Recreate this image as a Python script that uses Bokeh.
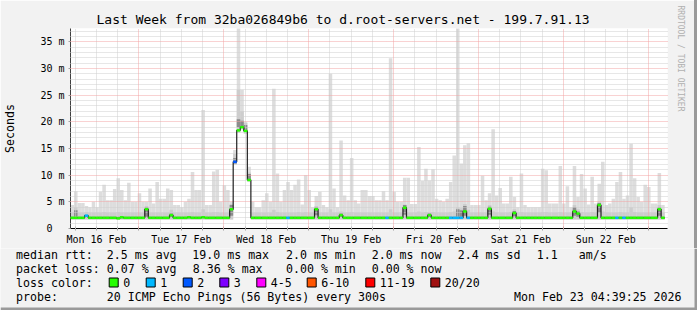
from bokeh.plotting import figure
from bokeh.layouts import column, row
from bokeh.models import (FixedTicker, Grid, ColumnDataSource, Range1d, Title, Spacer)
from bokeh.core.properties import value
from bokeh.embed import file_html
from bokeh.resources import INLINE

# ---------------- data (hourly, starting Mon 16 Feb 04:39) ----------------
smoke_max = [4.4, 7.0, 4.8, 4.8, 4.2, 4.0, 5.0, 4.0, 6.9, 8.2, 5.3, 5.3,
             7.4, 9.4, 7.2, 5.3, 8.6, 5.0, 5.0, 6.6, 5.0, 5.0, 7.5, 4.7,
             8.7, 5.6, 5.6, 7.5, 7.2, 4.4, 4.4, 4.0, 5.0, 5.6, 10.6, 7.2,
             7.2, 22.2, 4.4, 4.4, 10.7, 11.0, 5.0, 8.1, 7.2, 5.0, 14.7, 38.0,
             26.0, 20.0, 11.6, 5.0, 4.0, 4.0, 5.3, 6.6, 5.0, 26.2, 10.3, 5.0,
             7.2, 8.7, 7.2, 8.2, 9.2, 4.5, 10.0, 7.2, 4.0, 6.1, 6.9, 4.4,
             4.0, 29.0, 7.5, 4.0, 16.5, 6.2, 5.3, 13.2, 5.3, 4.7, 7.2, 7.2,
             6.1, 6.1, 5.3, 5.3, 7.0, 5.3, 31.9, 6.9, 5.0, 5.0, 9.5, 9.5,
             4.6, 4.6, 15.3, 8.9, 11.2, 9.0, 11.1, 5.6, 5.3, 5.0, 5.6, 8.7,
             13.7, 38.0, 12.2, 15.6, 16.0, 4.4, 4.4, 4.4, 9.9, 5.3, 6.6, 18.6,
             6.2, 7.6, 4.7, 4.7, 9.7, 5.9, 4.0, 10.3, 4.4, 4.0, 4.0, 4.0,
             4.0, 11.2, 10.9, 4.7, 4.7, 4.7, 11.7, 4.7, 7.9, 4.0, 11.7, 5.9,
             10.2, 7.5, 4.5, 9.7, 4.7, 8.4, 12.5, 4.4, 4.7, 5.6, 8.7, 10.6,
             5.6, 6.2, 15.9, 9.4, 5.9, 5.0, 8.2, 7.8, 4.7, 4.7, 10.4, 4.4]

smoke_min = [1.7, 1.7, 1.7, 1.7, 1.7, 1.7, 1.7, 1.7, 1.7, 1.7, 1.7, 1.7,
             1.7, 1.7, 1.7, 1.7, 1.7, 1.7, 1.7, 1.7, 1.7, 1.7, 1.7, 1.7,
             1.7, 1.7, 1.7, 1.7, 1.7, 1.7, 1.7, 1.7, 1.7, 1.7, 1.7, 1.7,
             1.7, 1.7, 1.7, 1.7, 1.7, 1.7, 1.7, 1.7, 1.7, 1.7, 12.0, 18.0,
             18.6, 17.8, 8.8, 1.7, 1.7, 1.7, 1.7, 1.7, 1.7, 1.7, 1.7, 1.7,
             1.7, 1.7, 1.7, 1.7, 1.7, 1.7, 1.7, 1.7, 1.7, 1.7, 1.7, 1.7,
             1.7, 1.7, 1.7, 1.7, 1.7, 1.7, 1.7, 1.7, 1.7, 1.7, 1.7, 1.7,
             1.7, 1.7, 1.7, 1.7, 1.7, 1.7, 1.7, 1.7, 1.7, 1.7, 1.7, 1.7,
             1.7, 1.7, 1.7, 1.7, 1.7, 1.7, 1.7, 1.7, 1.7, 1.7, 1.7, 1.7,
             1.7, 1.7, 1.7, 1.7, 1.7, 1.7, 1.7, 1.7, 1.7, 1.7, 1.7, 1.7,
             1.7, 1.7, 1.7, 1.7, 1.7, 1.7, 1.7, 1.7, 1.7, 1.7, 1.7, 1.7,
             1.7, 1.7, 1.7, 1.7, 1.7, 1.7, 1.7, 1.7, 1.7, 1.7, 1.7, 1.7,
             1.7, 1.7, 1.7, 1.7, 1.7, 1.7, 1.7, 1.7, 1.7, 1.7, 1.7, 1.7,
             1.7, 1.7, 1.7, 1.7, 1.7, 1.7, 1.7, 1.7, 1.7, 1.7, 1.7, 1.7]

smoke_p90 = [3.0, 4.0, 3.0, 3.0, 3.1, 3.0, 3.0, 3.0, 3.0, 3.1, 3.0, 3.0,
             3.0, 3.1, 3.0, 3.0, 3.0, 3.0, 3.0, 3.0, 3.0, 4.2, 3.0, 3.0,
             3.0, 3.0, 3.0, 3.0, 3.5, 3.0, 3.0, 3.0, 3.0, 3.0, 3.1, 3.0,
             3.0, 3.6, 3.0, 3.0, 3.1, 3.1, 3.0, 3.0, 3.0, 4.6, 14.0, 26.0,
             22.0, 19.8, 10.5, 3.0, 3.0, 3.0, 3.0, 3.0, 3.0, 3.5, 3.1, 3.0,
             3.0, 3.0, 3.0, 3.0, 3.1, 3.0, 3.1, 3.0, 3.0, 4.2, 3.0, 3.0,
             3.0, 3.6, 3.0, 3.0, 3.2, 3.0, 3.0, 3.1, 3.0, 3.0, 3.0, 3.0,
             3.0, 3.0, 3.0, 3.0, 3.0, 3.0, 3.6, 3.0, 3.0, 3.0, 4.5, 3.0,
             3.0, 3.0, 3.2, 3.0, 3.1, 3.0, 3.1, 3.0, 3.0, 3.0, 3.0, 3.1,
             3.2, 4.0, 3.8, 4.6, 3.5, 3.0, 3.0, 3.0, 3.0, 3.0, 4.4, 3.2,
             3.0, 3.0, 3.0, 3.0, 3.1, 3.6, 3.0, 3.1, 3.0, 3.0, 3.0, 3.0,
             3.0, 3.1, 3.1, 3.0, 3.0, 3.0, 3.1, 3.0, 3.0, 3.0, 4.4, 3.6,
             3.1, 3.0, 3.0, 3.1, 3.0, 5.0, 3.2, 3.0, 3.0, 3.0, 3.0, 3.1,
             3.0, 3.0, 4.0, 3.1, 3.0, 3.0, 3.0, 3.0, 3.0, 3.0, 4.4, 3.0]

core_lo = [1.9, 2.2, 1.9, 1.9, 2.2, 1.9, 1.9, 1.9, 1.9, 1.9, 1.9, 1.9,
           1.9, 1.9, 1.9, 1.9, 1.9, 1.9, 1.9, 1.9, 1.9, 2.2, 1.9, 1.9,
           1.9, 1.9, 1.9, 1.9, 2.2, 1.9, 1.9, 1.9, 1.9, 1.9, 1.9, 1.9,
           1.9, 1.9, 1.9, 1.9, 1.9, 1.9, 1.9, 1.9, 1.9, 2.4, 12.2, 19.0,
           19.2, 18.2, 9.2, 1.9, 1.9, 1.9, 1.9, 1.9, 1.9, 1.9, 1.9, 1.9,
           1.9, 1.9, 1.9, 1.9, 1.9, 1.9, 1.9, 1.9, 1.9, 2.5, 1.9, 1.9,
           1.9, 1.9, 1.9, 1.9, 2.2, 1.9, 1.9, 1.9, 1.9, 1.9, 1.9, 1.9,
           1.9, 1.9, 1.9, 1.9, 1.9, 1.9, 1.9, 1.9, 1.9, 1.9, 2.6, 1.9,
           1.9, 1.9, 1.9, 1.9, 1.9, 2.2, 1.9, 1.9, 1.9, 1.9, 1.9, 1.9,
           1.9, 2.2, 2.2, 2.4, 1.9, 1.9, 1.9, 1.9, 1.9, 1.9, 2.6, 1.9,
           1.9, 1.9, 1.9, 1.9, 1.9, 2.3, 1.9, 1.9, 1.9, 1.9, 1.9, 1.9,
           1.9, 1.9, 1.9, 1.9, 1.9, 1.9, 1.9, 1.9, 1.9, 1.9, 2.4, 2.2,
           1.9, 1.9, 1.9, 1.9, 1.9, 3.0, 1.9, 1.9, 1.9, 1.9, 1.9, 1.9,
           1.9, 1.9, 1.9, 1.9, 1.9, 1.9, 1.9, 1.9, 1.9, 1.9, 2.4, 1.9]

core_hi = [2.2, 3.4, 2.2, 2.2, 2.6, 2.2, 2.2, 2.2, 2.2, 2.2, 2.2, 2.2,
           2.2, 2.2, 2.2, 2.2, 2.2, 2.2, 2.2, 2.2, 2.2, 4.0, 2.2, 2.2,
           2.2, 2.2, 2.2, 2.2, 2.8, 2.2, 2.2, 2.2, 2.2, 2.2, 2.2, 2.2,
           2.2, 2.2, 2.2, 2.2, 2.2, 2.2, 2.2, 2.2, 2.2, 4.4, 13.2, 20.5,
           20.2, 19.4, 10.2, 2.2, 2.2, 2.2, 2.2, 2.2, 2.2, 2.2, 2.2, 2.2,
           2.2, 2.2, 2.2, 2.2, 2.2, 2.2, 2.2, 2.2, 2.2, 4.0, 2.2, 2.2,
           2.2, 2.2, 2.2, 2.2, 2.8, 2.2, 2.2, 2.2, 2.2, 2.2, 2.2, 2.2,
           2.2, 2.2, 2.2, 2.2, 2.2, 2.2, 2.2, 2.2, 2.2, 2.2, 4.4, 2.2,
           2.2, 2.2, 2.2, 2.2, 2.2, 2.8, 2.2, 2.2, 2.2, 2.2, 2.2, 2.2,
           2.2, 3.6, 3.4, 4.2, 2.2, 2.2, 2.2, 2.2, 2.2, 2.2, 4.1, 2.2,
           2.2, 2.2, 2.2, 2.2, 2.2, 3.3, 2.2, 2.2, 2.2, 2.2, 2.2, 2.2,
           2.2, 2.2, 2.2, 2.2, 2.2, 2.2, 2.2, 2.2, 2.2, 2.2, 4.0, 3.2,
           2.2, 2.2, 2.2, 2.2, 2.2, 4.8, 2.2, 2.2, 2.2, 2.2, 2.2, 2.2,
           2.2, 2.2, 2.2, 2.2, 2.2, 2.2, 2.2, 2.2, 2.2, 2.2, 4.0, 2.2]

median_rtt = [2.0, 2.0, 2.0, 2.0, 2.4, 2.0, 2.0, 2.0, 2.0, 2.0, 2.0, 2.0,
              2.0, 1.9, 2.1, 2.0, 2.0, 2.0, 2.0, 2.0, 2.0, 3.6, 2.0, 2.0,
              2.0, 2.0, 2.0, 2.0, 2.5, 2.0, 2.0, 2.0, 2.0, 2.1, 2.0, 2.0,
              2.0, 2.1, 2.0, 2.0, 2.0, 2.0, 2.0, 2.0, 2.0, 3.6, 12.5, 18.4,
              19.0, 18.3, 9.1, 2.0, 2.0, 2.0, 2.0, 2.0, 2.0, 2.0, 2.0, 2.0,
              2.0, 2.0, 2.0, 2.0, 2.0, 2.0, 2.0, 2.0, 2.0, 3.6, 2.0, 2.0,
              2.0, 2.0, 2.0, 2.0, 2.5, 2.0, 2.0, 2.0, 2.0, 2.0, 2.0, 2.0,
              2.0, 2.0, 2.0, 2.0, 2.0, 2.0, 2.0, 2.0, 2.0, 2.0, 3.9, 2.0,
              2.0, 2.0, 2.0, 2.0, 2.0, 2.5, 2.0, 2.0, 2.0, 2.0, 2.0, 2.0,
              2.0, 2.0, 2.0, 3.2, 2.0, 2.0, 2.0, 2.0, 2.0, 2.0, 3.7, 2.0,
              2.0, 2.0, 2.0, 2.0, 2.0, 2.9, 2.0, 2.0, 2.0, 2.0, 2.0, 2.0,
              2.0, 2.0, 2.0, 2.0, 2.0, 2.0, 2.0, 2.0, 2.0, 2.0, 3.2, 2.8,
              2.0, 2.0, 2.0, 2.0, 2.0, 4.4, 2.0, 2.0, 2.0, 2.0, 2.0, 2.0,
              2.0, 2.0, 2.0, 2.0, 2.0, 2.0, 2.0, 2.0, 2.0, 2.0, 3.6, 2.0]

# average lost pings (of 20) per hour
loss_pings = [0, 0, 0, 0, 0.05, 0, 0, 0, 0, 0, 0, 0,
              0, 0, 0, 0, 0, 0, 0, 0, 0, 0, 0, 0,
              0, 0, 0, 0, 0, 0, 0, 0, 0, 0, 0, 0,
              0, 0, 0, 0, 0, 0, 0, 0, 0, 0, 1.67, 0,
              0, 0, 0, 0, 0, 0, 0, 0, 0, 0, 0, 0,
              0, 0.05, 0, 0, 0, 0, 0, 0, 0, 0, 0, 0,
              0, 0, 0, 0, 0, 0, 0, 0, 0, 0, 0, 0,
              0, 0, 0, 0, 0, 0.05, 0, 0, 0, 0, 0, 0,
              0, 0, 0, 0, 0, 0, 0, 0, 0, 0, 0, 0.05,
              0.05, 0.08, 0.05, 0, 0.05, 0, 0, 0, 0, 0, 0, 0,
              0, 0, 0, 0, 0, 0, 0, 0, 0, 0, 0, 0,
              0, 0, 0, 0, 0, 0, 0, 0, 0, 0, 0, 0,
              0, 0, 0, 0, 0, 0, 0, 0, 0, 0, 0.05, 0,
              0.05, 0, 0, 0, 0, 0, 0, 0, 0, 0, 0, 0]

loss_labels = ["0", "1", "2", "3", "4-5", "6-10", "11-19", "20/20"]
loss_upper = [0, 1, 2, 3, 5, 10, 19, 20]
loss_colors = ["#26ff00", "#00b8ff", "#0059ff", "#7e00ff", "#ff00ff", "#ff5500", "#ff0000", "#a01111"]

day_labels = ["Mon 16 Feb", "Tue 17 Feb", "Wed 18 Feb", "Thu 19 Feb",
              "Fri 20 Feb", "Sat 21 Feb", "Sun 22 Feb"]
y_ticks = [0, 5, 10, 15, 20, 25, 30, 35]
y_tick_labels = ["0\u00a0\u00a0", "5 m", "10 m", "15 m", "20 m", "25 m", "30 m", "35 m"]

title_text = "Last Week from 32ba026849b6 to d.root-servers.net - 199.7.91.13"
stat_texts = ["median rtt:", "2.5 ms avg", "19.0 ms max", "2.0 ms min", "2.0 ms now",
              "2.4 ms sd", "1.1", "am/s",
              "packet loss:", "0.07 % avg", "8.36 % max", "0.00 % min", "0.00 % now"]
probe_text = "20 ICMP Echo Pings (56 Bytes) every 300s"
date_text = "Mon Feb 23 04:39:25 2026"

START_TOD = 4.65   # graph starts at 04:39 (hours after midnight)
SPAN_H = 168.8     # hours covered by the 600 px wide frame
MONO = "DejaVu Sans Mono"
BG = "#f2f2f2"

# ---------------- derived ----------------
n = len(median_rtt)
x0 = list(range(n))
x1 = [h + 1 for h in x0]


def loss_color(v):
    for up, col in zip(loss_upper, loss_colors):
        if v <= up:
            return col
    return loss_colors[-1]


seg_colors = [loss_color(v) for v in loss_pings]
src = ColumnDataSource(dict(x0=x0, x1=x1, smin=smoke_min, smax=smoke_max, p90=smoke_p90,
                            clo=core_lo, chi=core_hi, med=median_rtt, col=seg_colors))

# ---------------- chart ----------------
p = figure(width=694, height=248, output_backend="svg", toolbar_location=None,
           x_range=Range1d(0, SPAN_H), y_range=Range1d(0, 37.5),
           min_border_left=67, min_border_right=27, min_border_top=28, min_border_bottom=20)
p.border_fill_color = BG
p.background_fill_color = "#ffffff"
p.outline_line_color = None

p.add_layout(Title(text=title_text, align="left", offset=26, standoff=3,
                   text_font=MONO, text_font_size="13px", text_font_style="normal",
                   text_color="#000000"), "above")
p.add_layout(Title(text="RRDTOOL / TOBI OETIKER", align="left", offset=-23, standoff=16,
                   text_font=MONO, text_font_size="8px", text_font_style="normal",
                   text_color="#b0b0b0"), "right")

# smoke
p.quad(left="x0", right="x1", bottom="smin", top="smax", source=src,
       fill_color="#dddddd", line_color=None)
p.quad(left="x0", right="x1", bottom="smin", top="p90", source=src,
       fill_color="#cdcdcd", line_color=None)
p.quad(left="x0", right="x1", bottom="clo", top="chi", source=src,
       fill_color="#8c8c8c", line_color=None)

# grids (over the smoke)
six_h = [round(6 * k - START_TOD, 2) for k in range(1, 29)]
midnights = [round(24 * d - START_TOD, 2) for d in range(1, 8)]
noons = [round(24 * d + 12 - START_TOD, 2) for d in range(0, 7)]
minor_x = [t for t in six_h if t not in midnights]
minor_y = [v for v in range(1, 38) if v % 5 != 0]

p.xgrid.ticker = FixedTicker(ticks=minor_x)
p.ygrid.ticker = FixedTicker(ticks=minor_y)
for g in (p.xgrid, p.ygrid):
    g.grid_line_color = "#cfcfcf"
    g.grid_line_dash = "1 1"
    g.grid_line_width = 1
    g.level = "annotation"
p.add_layout(Grid(dimension=0, ticker=FixedTicker(ticks=midnights), grid_line_color="#f2a4a4",
                  grid_line_dash="1 1", level="annotation"))
p.add_layout(Grid(dimension=1, ticker=FixedTicker(ticks=y_ticks[1:]), grid_line_color="#f2a4a4",
                  grid_line_dash="1 1", level="annotation"))

# median: dark step line + loss-coloured segments
p.step(x=x0 + [n], y=median_rtt + [median_rtt[-1]], mode="after", line_color="#202020",
       line_width=1.2, level="overlay")
p.segment(x0="x0", x1="x1", y0="med", y1="med", source=src, line_color="col",
          line_width=2.5, level="overlay")

# axes
xa = p.xaxis[0]
xa.ticker = FixedTicker(ticks=six_h)
xa.major_label_overrides = {t: (day_labels[noons.index(t)] if t in noons else "") for t in six_h}
xa.major_label_text_font = MONO
xa.major_label_text_font_size = "10px"
xa.major_label_text_color = "#000000"
xa.major_label_standoff = 3
xa.major_tick_in = 2
xa.major_tick_out = 2
xa.major_tick_line_color = "#a0a0a0"
xa.minor_tick_line_color = None
xa.axis_line_color = "#000000"

ya = p.yaxis[0]
ya.ticker = FixedTicker(ticks=y_ticks)
ya.major_label_overrides = {v: lab for v, lab in zip(y_ticks, y_tick_labels)}
ya.major_label_text_font = MONO
ya.major_label_text_font_size = "10px"
ya.major_label_text_color = "#000000"
ya.major_label_standoff = 4
ya.major_tick_in = 0
ya.major_tick_out = 2
ya.major_tick_line_color = "#a0a0a0"
ya.minor_tick_line_color = None
ya.axis_line_color = "#404040"
ya.axis_label = "Seconds"
ya.axis_label_text_font = MONO
ya.axis_label_text_font_size = "11.6px"
ya.axis_label_text_font_style = "normal"
ya.axis_label_text_color = "#000000"
ya.axis_label_standoff = 20

edge = Spacer(width=3, height=248, styles={"background-color": "#9a9a9a"})

# ---------------- legend block (pixel coordinates of the block) ----------------
q = figure(width=697, height=62, output_backend="svg", toolbar_location=None,
           x_range=Range1d(0, 697), y_range=Range1d(62, 0),
           x_axis_location=None, y_axis_location=None, min_border=0)
q.border_fill_color = BG
q.background_fill_color = BG
q.outline_line_color = None
q.grid.grid_line_color = None

row_y = [6, 20, 34, 48]
stat_x = [15.5, 106.3, 191.8, 285.5, 371.2, 457.2, 536.2, 578.3,
          15.5, 106.3, 192.3, 285.5, 371.2]
stat_y = [row_y[0]] * 8 + [row_y[1]] * 5
box_x = [108.7, 145.7, 182.7, 219.3, 256.3, 306.7, 365.3, 430.3]

txt_x = stat_x + [15.5] + [b + 14 for b in box_x] + [15.5, 106.3]
txt_y = stat_y + [row_y[2]] * 9 + [row_y[3]] * 2
txt = stat_texts + ["loss color:"] + loss_labels + ["probe:", probe_text]
q.text(x=txt_x, y=txt_y, text=txt, text_font=value(MONO), text_font_size="11.6px",
       text_baseline="middle", text_align="left", text_color="#000000")
q.text(x=[681], y=[row_y[3]], text=[date_text], text_font=value(MONO),
       text_font_size="11.6px", text_baseline="middle", text_align="right", text_color="#000000")
q.quad(left=box_x, right=[b + 9 for b in box_x], top=[row_y[2] - 4.5] * 8,
       bottom=[row_y[2] + 4.5] * 8, fill_color=loss_colors, line_color="#000000", line_width=1)
# image bevel (right and bottom edges)
q.quad(left=[694, 0], right=[697, 697], top=[0, 59], bottom=[62, 62],
       fill_color="#9a9a9a", line_color=None)

layout = column(row(p, edge, spacing=0), q, spacing=0)
open("out.html", "w").write(file_html(layout, INLINE))
